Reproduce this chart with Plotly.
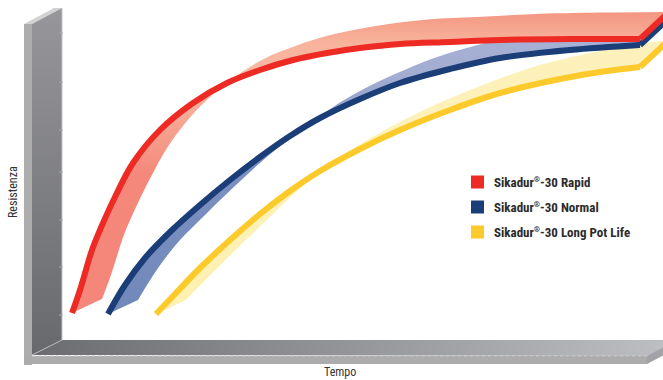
import numpy as np
import plotly.graph_objects as go

# ---- data: time (x) vs resistance (y) for the three products ----
series_names = ["Sikadur<sup><span style='font-size:8px'>®</span></sup>-30 Rapid",
                "Sikadur<sup><span style='font-size:8px'>®</span></sup>-30 Normal",
                "Sikadur<sup><span style='font-size:8px'>®</span></sup>-30 Long Pot Life"]

rapid_time = [10, 18, 30, 38, 53, 71, 98, 131, 165, 198, 231, 265, 298, 338, 388, 438, 508, 578]
rapid_res = [27, 50, 90, 110, 143, 177, 210, 237, 257, 270, 280, 287, 292, 296, 298, 300, 301, 301]

normal_time = [46, 63, 83, 108, 138, 168, 198, 228, 258, 298, 338, 388, 438, 508, 578]
normal_res = [26, 55, 82, 108, 135, 160, 183, 204, 222, 241, 257, 271, 282, 290, 295]

long_time = [94, 113, 138, 168, 198, 228, 258, 298, 338, 388, 438, 498, 538, 578]
long_res = [26, 46, 72, 100, 126, 149, 169, 191, 210, 230, 247, 261, 268, 273]

# ---- styles ----
LINE_COLORS = ["#ee2a24", "#1c3e78", "#fdca2b"]
RIBBON_SCALES = [
    [[0, "#f4867a"], [0.5, "#f4887a"], [0.78, "#f8bca6"], [0.9, "#f8b39c"], [1, "#f39580"]],
    [[0, "#6f87b8"], [0.55, "#7b91c2"], [0.8, "#a3add2"], [1, "#a9b1d6"]],
    [[0, "#fff1b0"], [1, "#fdf1bd"]],
]
# ribbon depth (perspective offset of the back edge) along the curve
DEPTH_POS = [0.0, 0.12, 0.25, 0.6, 1.0]
DEPTH_DX = [30, 37, 37, 33, 29]
DEPTH_DY = [14, 19, 24, 25, 27]
FONT = "Liberation Sans Narrow, Arial Narrow, Roboto Condensed, Arial, sans-serif"


def back_edge(t, r):
    t = np.asarray(t, float)
    r = np.asarray(r, float)
    f = (t - t[0]) / (t[-1] - t[0])
    return t + np.interp(f, DEPTH_POS, DEPTH_DX), r + np.interp(f, DEPTH_POS, DEPTH_DY)


fig = go.Figure()


def poly(xs, ys, color=None, grad=None):
    kw = dict(x=xs, y=ys, mode="lines", line=dict(width=0), fill="toself",
              hoverinfo="skip", showlegend=False)
    if grad is not None:
        kw["fillgradient"] = grad
        kw["fillcolor"] = grad["colorscale"][0][1]
    else:
        kw["fillcolor"] = color
    fig.add_trace(go.Scatter(**kw))


# pixel -> data: t = x - 62, r = 340 - y
def P(x, y):
    return x - 62, 340 - y


def polyp(pts, color=None, grad=None):
    xs = [P(*p)[0] for p in pts]
    ys = [P(*p)[1] for p in pts]
    poly(xs, ys, color, grad)


# ---- 3D frame ----
polyp([(24, 24), (32, 24), (32, 365), (24, 365)], "#adadad")
polyp([(24, 24), (32, 24), (62, 8), (54, 8)], "#d2d2d4")
polyp([(32, 24), (62, 8), (62, 340), (32, 355)],
      grad=dict(type="vertical", colorscale=[[0, "#68696d"], [1, "#97979b"]],
                start=P(0, 355)[1], stop=P(0, 8)[1]))
polyp([(32, 355), (62, 340), (690, 340), (647, 356)],
      grad=dict(type="horizontal", colorscale=[[0, "#6b6c70"], [1, "#bdbec2"]],
                start=P(32, 0)[0], stop=P(663, 0)[0]))
polyp([(24, 356), (647, 356), (647, 364), (24, 364)], "#acacac")
polyp([(647, 356), (677, 340), (677, 348), (647, 364)], "#a3a3a7")

shapes = []
x0, y0 = P(62, 8)
x1, y1 = P(62, 340)
shapes.append(dict(type="line", x0=x0, y0=y0, x1=x1, y1=y1, line=dict(color="#c4c4c6", width=1)))
x0, y0 = P(32, 355)
shapes.append(dict(type="line", x0=x0, y0=y0, x1=x1, y1=y1, line=dict(color="#b8b8ba", width=1)))
x0, y0 = P(32, 356)
x1, y1 = P(647, 356)
shapes.append(dict(type="line", x0=x0, y0=y0, x1=x1, y1=y1, line=dict(color="#c8c8c8", width=1, dash="dot")))
for yy in [33, 82, 130, 172, 220, 267, 315]:
    a, b = P(59, yy)
    c, d = P(63, yy)
    shapes.append(dict(type="line", x0=a, y0=b, x1=c, y1=d, line=dict(color="#a9a9ac", width=1)))

# ---- ribbons (drawn back to front: long pot life, normal, rapid) ----
all_series = [(rapid_time, rapid_res), (normal_time, normal_res), (long_time, long_res)]
for idx in [2, 1, 0]:
    t, r = all_series[idx]
    bt, br = back_edge(t, r)
    fig.add_trace(go.Scatter(x=bt, y=br, mode="lines", line=dict(width=0, shape="spline"),
                             hoverinfo="skip", showlegend=False))
    fig.add_trace(go.Scatter(x=t, y=r, mode="lines", line=dict(width=0, shape="spline"),
                             fill="tonexty",
                             fillgradient=dict(type="vertical", colorscale=RIBBON_SCALES[idx], start=0, stop=330),
                             fillcolor=RIBBON_SCALES[idx][0][1],
                             hoverinfo="skip", showlegend=False))
    fig.add_trace(go.Scatter(x=t, y=r, mode="lines", line=dict(width=6, color=LINE_COLORS[idx], shape="spline"),
                             hoverinfo="skip", showlegend=False))
    fig.add_trace(go.Scatter(x=[t[-1], bt[-1]], y=[r[-1], br[-1]], mode="lines",
                             line=dict(width=6, color=LINE_COLORS[idx]),
                             hoverinfo="skip", showlegend=False))

# ---- legend ----
annotations = []
legend_y = [182, 207, 232]
for i, name in enumerate(series_names):
    xa, ya = P(471, legend_y[i] - 6.5)
    xb, yb = P(484, legend_y[i] + 6.5)
    shapes.append(dict(type="rect", x0=xa, y0=ya, x1=xb, y1=yb, line=dict(width=0), fillcolor=LINE_COLORS[i]))
    tx, ty = P(492, legend_y[i])
    annotations.append(dict(x=tx, y=ty, text="<b>" + name + "</b>", showarrow=False, xanchor="left",
                            yanchor="middle", font=dict(family=FONT, size=13, color="#2b2b2b")))

ax, ay = P(13, 192)
annotations.append(dict(x=ax, y=ay, text="Resistenza", textangle=-90, showarrow=False,
                        font=dict(family=FONT, size=12, color="#333333")))
ax, ay = P(340, 372)
annotations.append(dict(x=ax, y=ay, text="Tempo", showarrow=False,
                        font=dict(family=FONT, size=12, color="#333333")))

fig.update_layout(
    width=663, height=380,
    margin=dict(l=0, r=0, t=0, b=0),
    paper_bgcolor="white", plot_bgcolor="white",
    xaxis=dict(range=[-62, 601], visible=False, fixedrange=True),
    yaxis=dict(range=[-40, 340], visible=False, fixedrange=True),
    shapes=shapes, annotations=annotations, showlegend=False,
)

fig.write_html("out.html")
